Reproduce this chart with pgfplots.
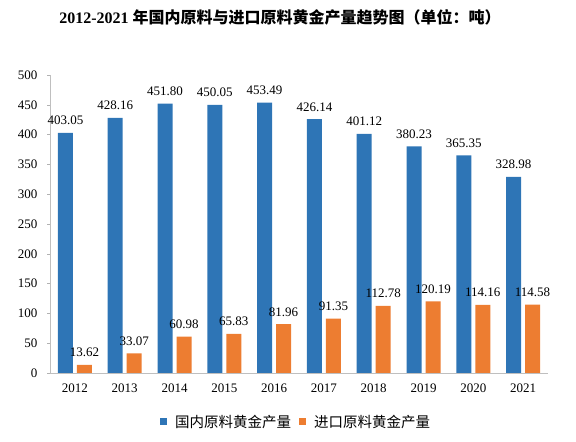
\documentclass[border=0pt]{standalone}
\usepackage{pgfplots}
\pgfplotsset{compat=1.18}
\usepackage{fontspec}
\setmainfont{Liberation Serif}
\newfontfamily\cjk{Noto Sans CJK SC}
\definecolor{cblue}{HTML}{2E75B6}
\definecolor{corange}{HTML}{ED7D31}
\begin{document}
\begin{tikzpicture}
\path[use as bounding box] (0pt,0pt) rectangle (576pt,442pt);
\node[anchor=base, font=\fontsize{16}{16}\selectfont\bfseries] at (280pt,418pt) {2012-2021 {\cjk\bfseries 年国内原料与进口原料黄金产量趋势图（单位：吨）}};
\begin{axis}[
  at={(50pt,69pt)}, anchor=south west,
  scale only axis, width=498pt, height=298pt,
  xmin=-0.5, xmax=9.5, ymin=0, ymax=500,
  xtick={0,...,9},
  xticklabels={2012,2013,2014,2015,2016,2017,2018,2019,2020,2021},
  ytick={0,50,...,500},
  axis x line*=bottom, axis y line*=left,
  axis line style={draw=black!25},
  major x tick style={draw=none},
  major y tick style={draw=black!30},
  tick align=outside, major tick length=3pt,
  /pgf/number format/assume math mode=true,
  ticklabel style={font=\fontsize{13}{13}\selectfont},
  yticklabel style={xshift=-6pt},
  xticklabel style={yshift=-4pt},
  ybar, bar width=15pt,
  nodes near coords={\pgfmathprintnumber[fixed,fixed zerofill,precision=2]{\pgfplotspointmeta}},
  every node near coord/.append style={font=\fontsize{13}{13}\selectfont, anchor=base, yshift=8pt, inner sep=0pt, text=black},
  legend style={at={(0.494,-0.164)}, anchor=center, draw=none, legend columns=2,
    font=\cjk\fontsize{14.5}{14.5}\selectfont, column sep=6pt},
  legend image code/.code={\fill[#1] (0pt,-3.5pt) rectangle (7pt,3.5pt);},
  clip=false,
]
\addplot[fill=cblue, draw=none, bar shift=-9.5pt] coordinates {
  (0,403.05) (1,428.16) (2,451.80) (3,450.05) (4,453.49)
  (5,426.14) (6,401.12) (7,380.23) (8,365.35) (9,328.98)};
\addplot[fill=corange, draw=none, bar shift=9.5pt] coordinates {
  (0,13.62) (1,33.07) (2,60.98) (3,65.83) (4,81.96)
  (5,91.35) (6,112.78) (7,120.19) (8,114.16) (9,114.58)};
\legend{国内原料黄金产量, 进口原料黄金产量}
\end{axis}
\end{tikzpicture}
\end{document}
